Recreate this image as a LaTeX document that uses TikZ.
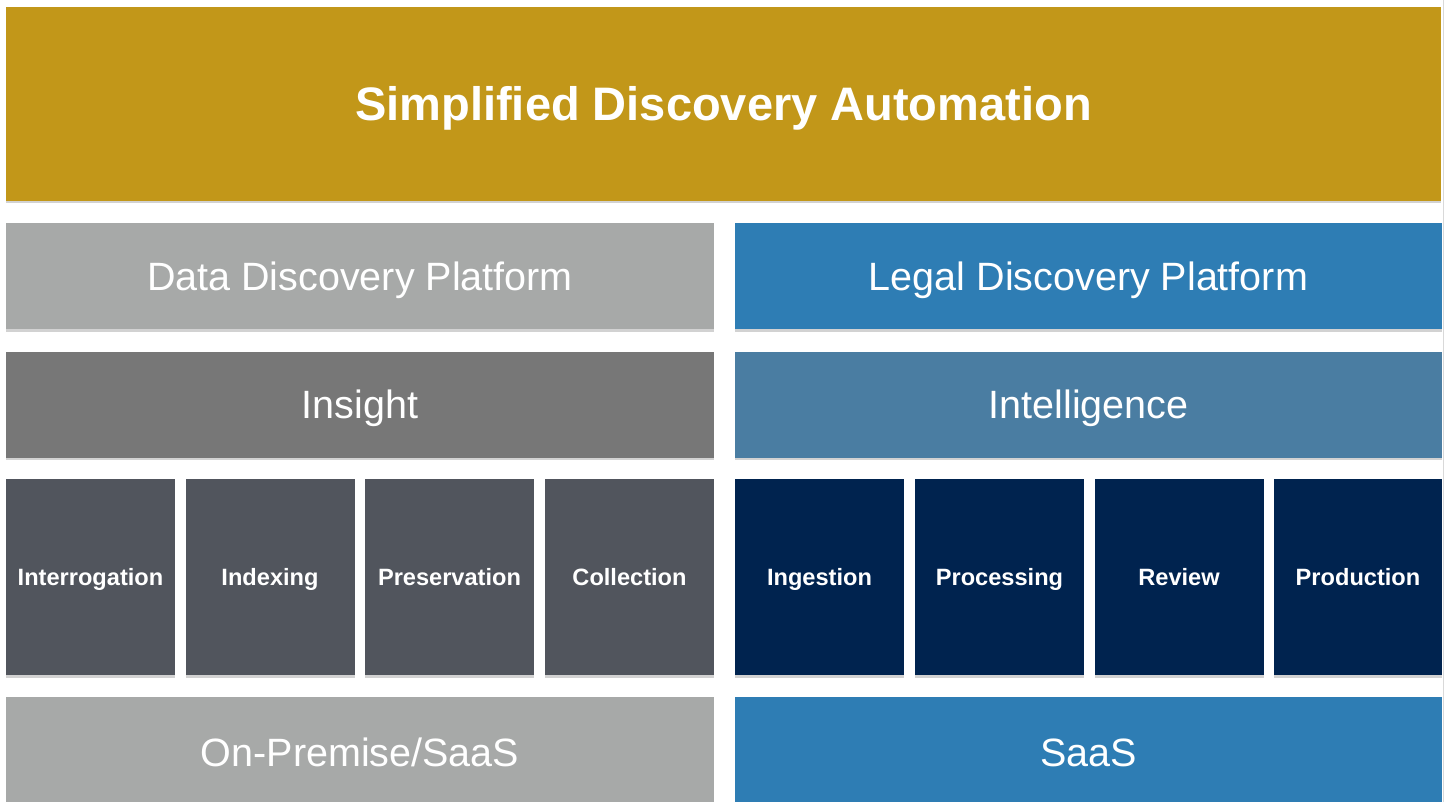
\documentclass[tikz,border=0pt]{standalone}
\usepackage{fontspec}
\setmainfont{Liberation Sans}
\usetikzlibrary{shadows}
\definecolor{gold}{HTML}{C29719}
\definecolor{lgray}{HTML}{A7A9A8}
\definecolor{mgray}{HTML}{777777}
\definecolor{slate}{HTML}{51555D}
\definecolor{bblue}{HTML}{2E7DB4}
\definecolor{mblue}{HTML}{4A7DA2}
\definecolor{navy}{HTML}{00234F}
\tikzset{
  box/.style={inner sep=0pt, outer sep=0pt, text=white, text depth=0pt,
    drop shadow={opacity=0.35, shadow xshift=0pt, shadow yshift=-2.5pt}},
  small/.style={box, minimum width=169pt, minimum height=196pt, text height=16.9pt,
    font=\fontsize{23.6}{26}\selectfont\bfseries},
  wide/.style={box, minimum width=708pt, minimum height=106pt, text height=28.3pt,
    font=\fontsize{39.5}{44}\selectfont},
  banner/.style={box, minimum width=1435pt, minimum height=194pt, text height=33.6pt,
    font=\fontsize{47}{52}\selectfont\bfseries},
}
\begin{document}
\begin{tikzpicture}[x=1pt,y=-1pt]
\path[use as bounding box, fill=white] (0,0) rectangle (1445,802);
\draw[black!15, line width=1pt] (1443.5,0) -- (1443.5,802);
\node[banner, fill=gold] (title) at (723.5,104) {Simplified Discovery Automation};
\node[wide, fill=lgray] (ddp) at (360,276) {Data Discovery Platform};
\node[wide, fill=bblue, minimum width=707pt] (ldp) at (1088.5,276) {Legal Discovery Platform};
\node[wide, fill=mgray] (insight) at (360,404.5) {Insight};
\node[wide, fill=mblue, minimum width=707pt] (intel) at (1088.5,404.5) {Intelligence};
\node[small, fill=slate] (interr) at (90.5,577) {Interrogation};
\node[small, fill=slate] (index) at (270,577) {Indexing};
\node[small, fill=slate] (pres) at (449.5,577) {Preservation};
\node[small, fill=slate] (coll) at (629.5,577) {Collection};
\node[small, fill=navy] (inges) at (819.5,577) {Ingestion};
\node[small, fill=navy] (proc) at (999.5,577) {Processing};
\node[small, fill=navy] (rev) at (1179,577) {Review};
\node[small, fill=navy, minimum width=168pt] (prod) at (1358,577) {Production};
\node[wide, fill=lgray, minimum height=110pt] (onprem) at (360,752) {On-Premise/SaaS};
\node[wide, fill=bblue, minimum width=707pt, minimum height=110pt] (saas) at (1088.5,752) {SaaS};
\end{tikzpicture}
\end{document}
